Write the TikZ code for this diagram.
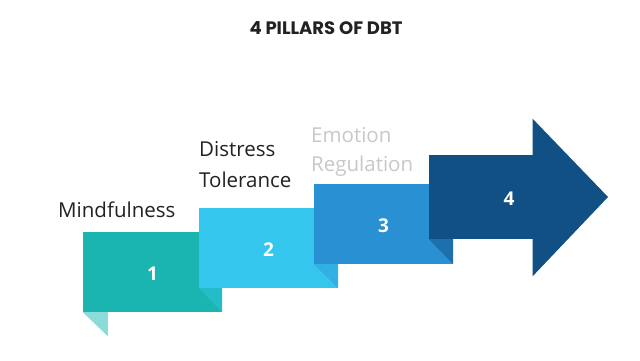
\documentclass[tikz,border=0pt]{standalone}
\usepackage{fontspec}
\setmainfont{Open Sans}
\newfontfamily\titlefont{Poppins}
\usetikzlibrary{positioning,calc}
\definecolor{PillarTeal}{RGB}{26,181,176}
\definecolor{PillarSky}{RGB}{53,198,238}
\definecolor{PillarBlue}{RGB}{42,144,212}
\definecolor{PillarNavy}{RGB}{17,80,133}
\definecolor{FoldTeal}{RGB}{138,220,216}
\definecolor{LabelDark}{RGB}{34,34,34}
\definecolor{LabelGrey}{RGB}{200,200,200}
\tikzset{
  pillar/.style={inner sep=0pt,minimum width=139pt,minimum height=80pt,
    text=white,text height=17.5pt,text depth=0pt,
    font=\fontsize{19}{19}\selectfont\bfseries},
  num/.style={inner sep=0pt,text=white,font=\fontsize{19}{19}\selectfont\bfseries},
  pillarlabel/.style={anchor=base west,align=left,inner sep=0pt,
    text=LabelDark,font=\fontsize{20.5}{31}\selectfont},
  titletext/.style={anchor=base,inner sep=0pt,text=LabelDark,
    font=\titlefont\fontsize{18}{18}\selectfont\bfseries}
}
\begin{document}
\begin{tikzpicture}[x=1pt,y=1pt]
  \useasboundingbox[fill=white] (0,0) rectangle (640,360);
  \node[titletext] (title) at (326,326) {4 PILLARS OF DBT};
  \node[pillar,fill=PillarTeal] (p1) at (152.5,88) {1};
  \fill[FoldTeal] (p1.south west) -- ++(25,0) -- ++(0,-24) -- cycle;
  \node[pillar,fill=PillarSky] (p2) at (268.5,112) {2};
  \fill[PillarTeal!60!PillarSky] (p2.south west) -- (p1.south east |- p2.south) -- (p1.south east) -- cycle;
  \node[pillar,fill=PillarBlue] (p3) at (383.5,136) {3};
  \fill[PillarSky!60!PillarBlue] (p3.south west) -- (p2.south east |- p3.south) -- (p2.south east) -- cycle;
  \node[pillar,fill=PillarNavy,minimum width=104pt,minimum height=84pt] (p4) at (481,163) {};
  \coordinate (tip) at (608,163);
  \fill[PillarNavy] ($(p4.north east)+(-0.5,36)$) -- (tip) -- ($(p4.south east)+(-0.5,-37)$) -- cycle;
  \fill[PillarBlue!50!PillarNavy] (p4.south west) -- (p3.south east |- p4.south) -- (p3.south east) -- cycle;
  \node[num] (n4) at (509,161) {4};
  \node[pillarlabel] (l1) at (58,143) {Mindfulness};
  \node[pillarlabel] (l2) at (199,173) {Distress\\Tolerance};
  \node[pillarlabel,text=LabelGrey,font=\fontsize{20.5}{28.5}\selectfont] (l3) at (311,189) {Emotion\\Regulation};
\end{tikzpicture}
\end{document}
